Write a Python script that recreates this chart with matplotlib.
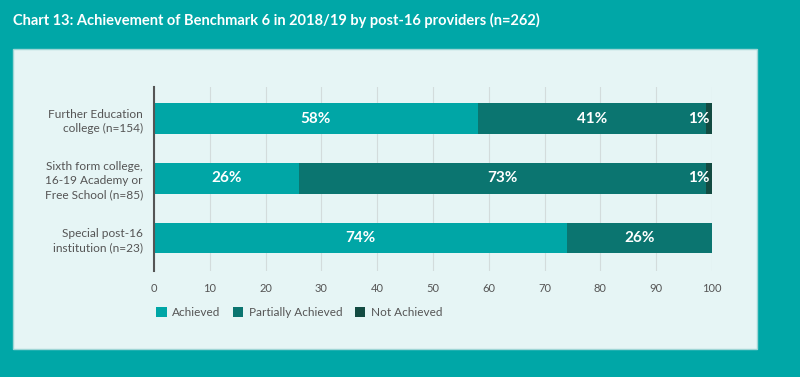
import matplotlib.pyplot as plt
from matplotlib.patches import Rectangle

plt.rcParams['font.family'] = ['Lato', 'DejaVu Sans']

title = 'Chart 13: Achievement of Benchmark 6 in 2018/19 by post-16 providers (n=262)'
providers = ['Further Education\ncollege (n=154)',
             'Sixth form college,\n16-19 Academy or\nFree School (n=85)',
             'Special post-16\ninstitution (n=23)']
series_names = ['Achieved', 'Partially Achieved', 'Not Achieved']
achieved = [58, 26, 74]
partially = [41, 73, 26]
not_achieved = [1, 1, 0]
xticks = [0, 10, 20, 30, 40, 50, 60, 70, 80, 90, 100]

outer_bg = '#00A7A7'
panel_bg = '#E6F5F5'
colors = ['#00A6A6', '#0B7570', '#134B42']

fig = plt.figure(figsize=(8, 3.77), dpi=100)
fig.patch.set_facecolor(outer_bg)

W, H = 800, 377
# light panel behind the chart
fig.patches.append(Rectangle((13 / W, 1 - 349 / H), (757 - 13) / W, (349 - 49) / H,
                             transform=fig.transFigure, facecolor=panel_bg,
                             edgecolor='#9FD6D6', linewidth=1, zorder=-5))
fig.text(13 / W, 1 - 20 / H, title, color='white', fontsize=10.5, fontweight='bold',
         va='center', ha='left')

ax = fig.add_axes([154 / W, 1 - 271 / H, (712 - 154) / W, (271 - 87) / H])
ax.set_facecolor('none')

y = list(range(len(providers)))
left = [0] * len(providers)
for vals, name, c in zip([achieved, partially, not_achieved], series_names, colors):
    ax.barh(y, vals, left=left, height=0.51, color=c, label=name, zorder=2)
    for i, v in enumerate(vals):
        if v <= 0:
            continue
        if v < 5:
            ax.text(left[i] + v - 0.4, y[i], f'{v}%', ha='right', va='center',
                    color='white', fontsize=11, fontweight='bold', zorder=3)
        else:
            ax.text(left[i] + v / 2, y[i], f'{v}%', ha='center', va='center',
                    color='white', fontsize=11, fontweight='bold', zorder=3)
    left = [l + v for l, v in zip(left, vals)]

ax.set_xlim(0, 100)
ax.set_ylim(2.55, -0.53)
ax.set_yticks(y)
ax.set_yticklabels(providers, color='#555555', fontsize=8.6, linespacing=1.35)
ax.set_xticks(xticks)
ax.set_xticklabels([str(t) for t in xticks], color='#555555', fontsize=8)
ax.tick_params(axis='x', length=0, pad=9)
ax.tick_params(axis='y', length=0, pad=8)
ax.grid(axis='x', color='#D3DCDC', linewidth=0.8, zorder=0)
for s in ['top', 'right', 'bottom']:
    ax.spines[s].set_visible(False)
ax.spines['left'].set_color('#555555')
ax.spines['left'].set_linewidth(1.5)
ax.spines['left'].set_zorder(4)

leg = ax.legend(loc='upper left', bbox_to_anchor=(-0.005, -0.17), ncol=3, frameon=False,
                fontsize=8.5, handlelength=0.9, handleheight=0.9, handletextpad=0.5,
                columnspacing=1.0, borderaxespad=0)
for t in leg.get_texts():
    t.set_color('#555555')

fig.savefig('out.png', dpi=100, facecolor=fig.get_facecolor())
